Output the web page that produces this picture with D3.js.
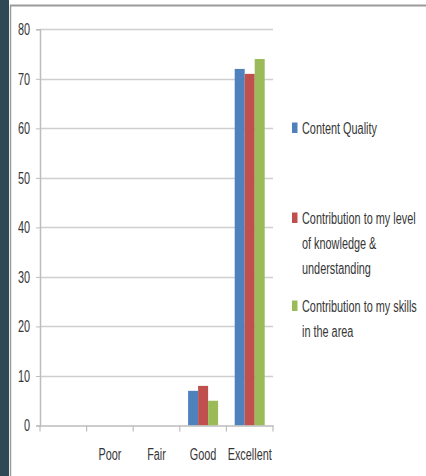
<!DOCTYPE html>
<html>
<head>
<meta charset="utf-8">
<script src="https://cdn.jsdelivr.net/npm/d3@7"></script>
<style>
  html, body { margin: 0; padding: 0; background: #fff; }
  svg { display: block; }
  text { font-family: "Liberation Sans", Arial, sans-serif; font-size: 16px; fill: #363636; }
</style>
</head>
<body>
<svg id="chart" width="426" height="476"></svg>
<script>
// Ratings categories (first slot is an unlabeled empty category)
const categories = ["", "Poor", "Fair", "Good", "Excellent"];
const seriesNames = [
  "Content Quality",
  "Contribution to my level of knowledge & understanding",
  "Contribution to my skills in the area"
];
const contentQuality = [0, 0, 0, 7, 72];
const knowledgeLevel = [0, 0, 0, 8, 71];
const skillsArea = [0, 0, 0, 5, 74];
const yTicks = [0, 10, 20, 30, 40, 50, 60, 70, 80];
const colors = ["#4f81bd", "#c0504d", "#9bbb59"];

// Legend entries wrapped onto lines
const legendLines = [
  ["Content Quality"],
  ["Contribution to my level", "of knowledge &", "understanding"],
  ["Contribution to my skills", "in the area"]
];

const series = [contentQuality, knowledgeLevel, skillsArea];

// Narrow lettering: text is squeezed horizontally
const sx = 0.68;

const svg = d3.select("#chart");

// Frame: dark strip on the left, grey border lines
svg.append("rect").attr("x", 0).attr("y", 0).attr("width", 9).attr("height", 476).attr("fill", "#2f4856");
svg.append("line").attr("x1", 10).attr("x2", 426).attr("y1", 5.5).attr("y2", 5.5)
  .attr("stroke", "#9a9a9a").attr("stroke-width", 2);
svg.append("line").attr("x1", 10.5).attr("x2", 10.5).attr("y1", 5).attr("y2", 476)
  .attr("stroke", "#9a9a9a").attr("stroke-width", 1.5);

const plot = { left: 40, right: 273, top: 29.3, bottom: 425.5 };

const x = d3.scaleBand().domain(d3.range(categories.length))
  .range([plot.left, plot.right]).paddingInner(0).paddingOuter(0);
const y = d3.scaleLinear().domain([0, 80]).range([plot.bottom, plot.top]);

// Gridlines
svg.append("g").selectAll("line").data(yTicks.filter(d => d > 0)).join("line")
  .attr("x1", plot.left).attr("x2", plot.right)
  .attr("y1", d => Math.round(y(d)) + 0.5).attr("y2", d => Math.round(y(d)) + 0.5)
  .attr("stroke", "#cfcfcf").attr("stroke-width", 1.5);

// Y axis
const yAxis = svg.append("g").attr("transform", `translate(${plot.left},0)`)
  .call(d3.axisLeft(y).tickValues(yTicks).tickSize(4).tickPadding(6));
yAxis.select(".domain").attr("stroke", "#bdbdbd").attr("stroke-width", 1.5);
yAxis.selectAll(".tick line").attr("stroke", "#bdbdbd");
yAxis.selectAll("text")
  .attr("x", -10 / sx).attr("dy", "0.34em")
  .attr("transform", `scale(${sx},1)`)
  .attr("font-size", null).attr("fill", "#363636");

// Bars
const inner = d3.scaleBand().domain(d3.range(series.length)).range([0, 30]);
const groups = svg.append("g").selectAll("g").data(categories.map((c, i) => i)).join("g")
  .attr("transform", i => `translate(${x(i) + (x.bandwidth() - 30) / 2},0)`);
groups.selectAll("rect").data(i => series.map((s, k) => ({ k, v: s[i] })).filter(d => d.v > 0)).join("rect")
  .attr("x", d => inner(d.k)).attr("width", inner.bandwidth())
  .attr("y", d => y(d.v)).attr("height", d => y(0) - y(d.v))
  .attr("fill", d => colors[d.k]);

// X axis
const xAxis = svg.append("g").attr("transform", `translate(0,${plot.bottom})`)
  .call(d3.axisBottom(x).tickSize(0).tickFormat(i => categories[i]));
xAxis.select(".domain").attr("stroke", "#bdbdbd").attr("stroke-width", 1.5);
xAxis.selectAll("text")
  .attr("y", 34.5).attr("dy", null)
  .attr("transform", `scale(${sx},1)`)
  .attr("font-size", null).attr("fill", "#363636");
// Category boundary ticks
svg.append("g").selectAll("line").data(d3.range(categories.length + 1)).join("line")
  .attr("x1", i => i < categories.length ? x(i) : plot.right)
  .attr("x2", i => i < categories.length ? x(i) : plot.right)
  .attr("y1", plot.bottom).attr("y2", plot.bottom + 6)
  .attr("stroke", "#bdbdbd").attr("stroke-width", 1.2);

// Legend
const legendY = [128, 218, 306];
const legend = svg.append("g");
legendLines.forEach((lines, k) => {
  legend.append("rect").attr("x", 292).attr("y", legendY[k] - 5.5).attr("width", 5.5).attr("height", 10.5)
    .attr("fill", colors[k]);
  const t = legend.append("text")
    .attr("transform", `translate(302,${legendY[k] + 6}) scale(${sx},1)`)
    .attr("fill", "#363636");
  lines.forEach((ln, j) => t.append("tspan").attr("x", 0).attr("y", j * 25).text(ln));
});
</script>
</body>
</html>
